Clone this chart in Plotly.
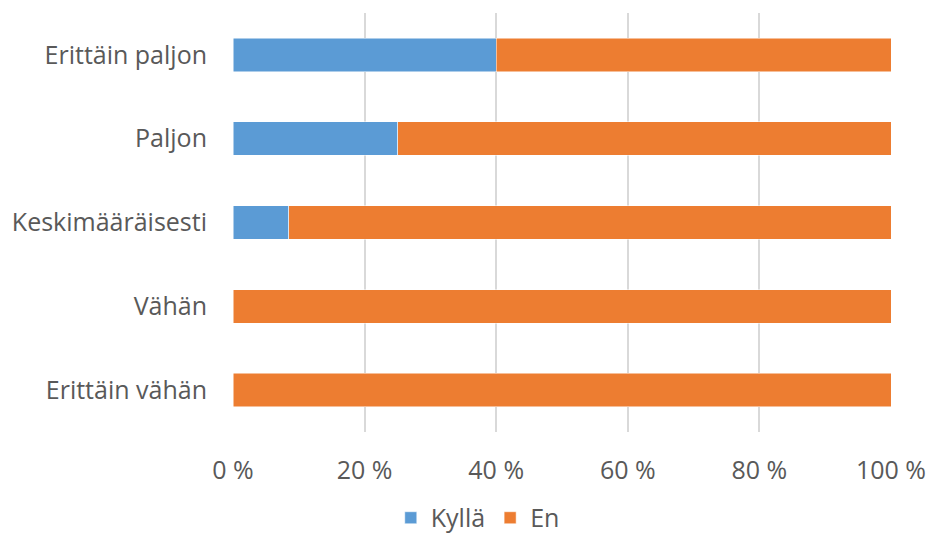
import plotly.graph_objects as go

categories = ["Erittäin paljon", "Paljon", "Keskimääräisesti", "Vähän", "Erittäin vähän"]
kylla = [40, 25, 8.5, 0, 0]
en = [60, 75, 91.5, 100, 100]
tick_vals = [0, 20, 40, 60, 80, 100]
tick_text = ["0 %", "20 %", "40 %", "60 %", "80 %", "100 %"]

font_family = "Open Sans, DejaVu Sans, sans-serif"
txt = "#595959"
fs = 25

fig = go.Figure()
fig.add_trace(go.Bar(y=categories, x=kylla, name="Kyllä", orientation="h",
                     marker=dict(color="#5B9BD5", line=dict(color="white", width=0.5))))
fig.add_trace(go.Bar(y=categories, x=en, name="En", orientation="h",
                     marker=dict(color="#ED7D31", line=dict(color="white", width=0.5))))

fig.update_layout(
    barmode="stack",
    bargap=0.6,
    width=928, height=534,
    margin=dict(l=233, r=37, t=13, b=102, autoexpand=False),
    paper_bgcolor="white", plot_bgcolor="white",
    font=dict(family=font_family, size=fs, color=txt),
    legend=dict(orientation="h", x=0.372, xanchor="center",
                yref="container", y=0.03, yanchor="middle",
                font=dict(size=fs, color=txt), itemwidth=30, traceorder="normal"),
    xaxis=dict(range=[0, 100], tickvals=tick_vals, ticktext=tick_text,
               showgrid=True, gridcolor="#d9d9d9", gridwidth=2,
               zeroline=False, showline=False, ticks="outside", ticklen=16,
               tickcolor="rgba(0,0,0,0)", tickfont=dict(size=fs, color=txt)),
    yaxis=dict(autorange="reversed", showgrid=False, zeroline=False, showline=False,
               ticks="outside", ticklen=20, tickcolor="rgba(0,0,0,0)",
               tickfont=dict(size=fs, color=txt)),
)

fig.write_html("out.html")
